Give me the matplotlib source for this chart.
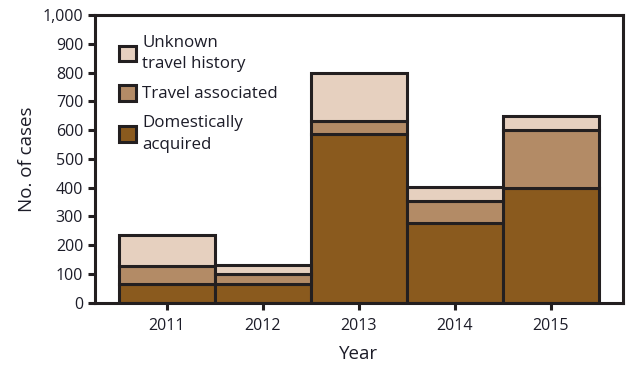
import numpy as np
import matplotlib
matplotlib.use("Agg")
import matplotlib.pyplot as plt
from matplotlib.patches import Patch

plt.rcParams['font.family'] = ['Open Sans', 'DejaVu Sans']

# data
years = ['2011', '2012', '2013', '2014', '2015']
domestic = [66, 64, 585, 276, 397]
travel = [62, 36, 48, 79, 202]
unknown = [108, 30, 165, 46, 51]

c_dom = '#8a5a1e'
c_trav = '#b38b66'
c_unk = '#e6d0bf'
edge = '#231f20'
txt = '#1c1c28'

fig = plt.figure(figsize=(6.4, 3.7), dpi=100)
ax = fig.add_axes([0.1484, 0.182, 0.825, 0.7775])

x = np.arange(len(years))
bot1 = np.array(domestic)
bot2 = bot1 + np.array(travel)
ax.bar(x, domestic, width=1.0, color=c_dom, edgecolor=edge, linewidth=2.2)
ax.bar(x, travel, width=1.0, bottom=bot1, color=c_trav, edgecolor=edge, linewidth=2.2)
ax.bar(x, unknown, width=1.0, bottom=bot2, color=c_unk, edgecolor=edge, linewidth=2.2)

ax.set_xlim(-0.75, 4.75)
ax.set_ylim(0, 1000)
ax.set_yticks(range(0, 1001, 100))
ax.set_yticklabels([f'{v:,}' for v in range(0, 1001, 100)])
ax.set_xticks(x)
ax.set_xticklabels(years)

for s in ax.spines.values():
    s.set_linewidth(2.2)
    s.set_color(edge)
ax.tick_params(axis='both', colors=edge, width=2.2, length=5, labelsize=11.5,
               labelcolor=txt, direction='out')
ax.tick_params(axis='x', pad=6)

ax.set_xlabel('Year', fontsize=13.5, color=txt, labelpad=8)
ax.set_ylabel('No. of cases', fontsize=13.5, color=txt, labelpad=5)

handles = [Patch(facecolor=c_unk, edgecolor=edge, linewidth=2.2),
           Patch(facecolor=c_trav, edgecolor=edge, linewidth=2.2),
           Patch(facecolor=c_dom, edgecolor=edge, linewidth=2.2)]
labels = ['Unknown\ntravel history', 'Travel associated', 'Domestically\nacquired']
leg = ax.legend(handles, labels, loc='upper left', frameon=False, fontsize=12.2,
                handlelength=1.05, handleheight=1.05, handletextpad=0.35,
                labelspacing=0.75, borderaxespad=0.0, bbox_to_anchor=(0.032, 0.955),
                labelcolor=txt)
for t in leg.get_texts():
    t.set_linespacing(1.45)

fig.savefig('out.png', dpi=100)
